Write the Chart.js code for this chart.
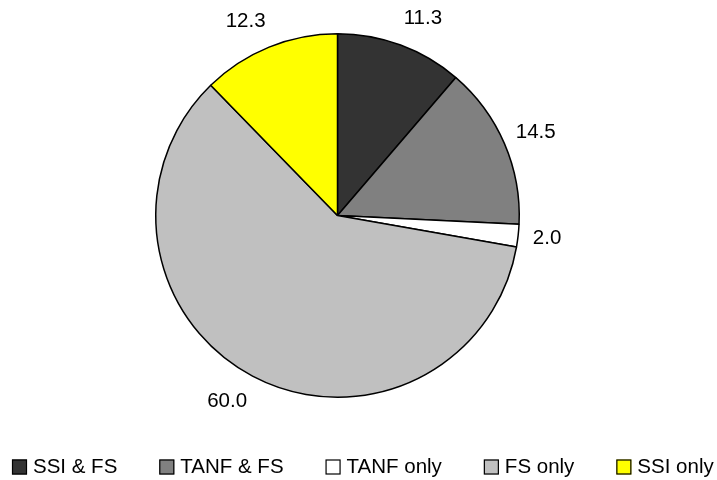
<!DOCTYPE html>
<html>
<head>
<meta charset="utf-8">
<script src="https://cdn.jsdelivr.net/npm/chart.js@4/dist/chart.umd.min.js"></script>
<style>
  body { margin: 0; background: #fff; }
  canvas { display: block; }
</style>
</head>
<body>
<canvas id="myPieChart" width="717" height="480"></canvas>
<script>
// categories and values (percent)
const categories = ['SSI & FS', 'TANF & FS', 'TANF only', 'FS only', 'SSI only'];
const shares = [11.3, 14.5, 2.0, 60.0, 12.3];
const sliceColors = ['#333333', '#808080', '#ffffff', '#c0c0c0', '#ffff00'];

const FONT = '20.5px "Liberation Sans", Arial, sans-serif';

// value labels outside each slice, nudged sideways near the top/bottom like Excel does
const outsideLabels = {
  id: 'outsideLabels',
  afterDatasetsDraw(chart) {
    const ctx = chart.ctx;
    const meta = chart.getDatasetMeta(0);
    ctx.save();
    ctx.font = FONT;
    ctx.fillStyle = '#000';
    ctx.textAlign = 'center';
    ctx.textBaseline = 'middle';
    meta.data.forEach((arc, i) => {
      const txt = shares[i].toFixed(1);
      const halfW = ctx.measureText(txt).width / 2;
      const mid = (arc.startAngle + arc.endAngle) / 2;
      const dx = Math.cos(mid), dy = Math.sin(mid);
      const d = arc.outerRadius + 28;
      const x = arc.x + dx * d + Math.sign(dx) * halfW * 0.7 * Math.abs(dy);
      const y = arc.y + dy * d;
      ctx.fillText(txt, x, y);
    });
    ctx.restore();
  }
};

// one-row legend along the bottom
const bottomLegend = {
  id: 'bottomLegend',
  afterDraw(chart) {
    const ctx = chart.ctx;
    ctx.save();
    ctx.font = FONT;
    ctx.textBaseline = 'middle';
    let x = 12;
    const y = 467;
    categories.forEach((name, i) => {
      ctx.fillStyle = sliceColors[i];
      ctx.fillRect(x, y - 7.5, 15, 15);
      ctx.strokeStyle = '#000';
      ctx.lineWidth = 1.2;
      ctx.strokeRect(x + 0.5, y - 7, 14, 14);
      ctx.fillStyle = '#000';
      ctx.fillText(name, x + 21, y);
      x += 21 + ctx.measureText(name).width + 42;
    });
    ctx.restore();
  }
};

const ctx = document.getElementById('myPieChart').getContext('2d');
const myPieChart = new Chart(ctx, {
  type: 'pie',
  data: {
    labels: categories,
    datasets: [{
      data: shares,
      backgroundColor: sliceColors,
      borderColor: '#000',
      borderWidth: 1.5,
    }],
  },
  options: {
    responsive: false,
    animation: false,
    layout: {
      padding: { top: 33, bottom: 82, left: 0, right: 42 },
    },
    plugins: {
      legend: { display: false },
      tooltip: { enabled: false },
    },
  },
  plugins: [outsideLabels, bottomLegend],
});
</script>
</body>
</html>
